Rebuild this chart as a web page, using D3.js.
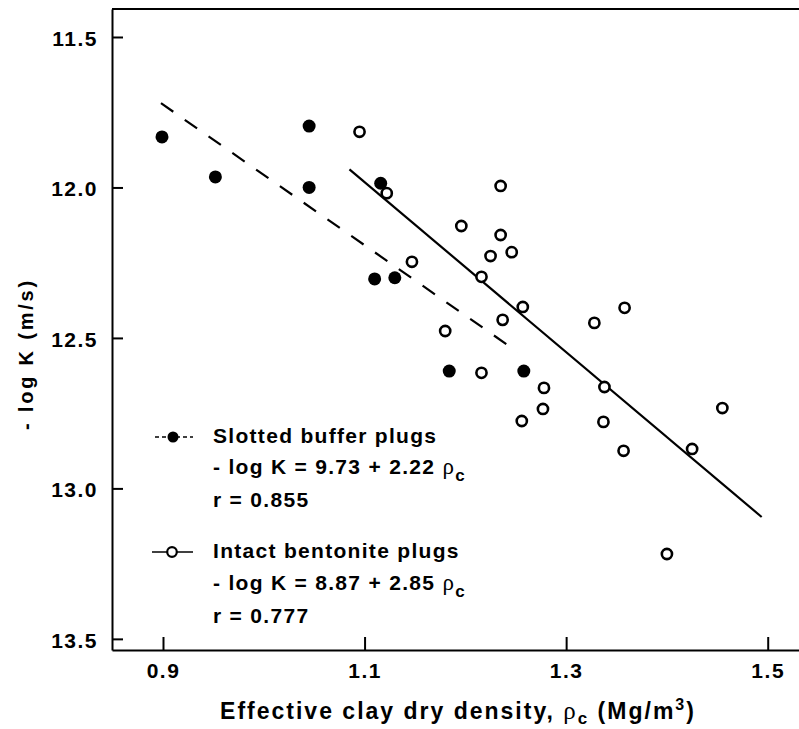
<!DOCTYPE html>
<html>
<head>
<meta charset="utf-8">
<script src="https://cdn.jsdelivr.net/npm/d3@7"></script>
<style>
  body { margin: 0; background: #fff; }
  svg { display: block; font-family: "Liberation Sans", Arial, sans-serif; }
</style>
</head>
<body>
<div id="chart"></div>
<script>
// slotted buffer plugs (filled dots)
const slottedX = [0.899, 0.952, 1.045, 1.045, 1.116, 1.110, 1.130, 1.184, 1.258];
const slottedY = [11.832, 11.965, 11.796, 12.0, 11.986, 12.304, 12.30, 12.61, 12.61];
// intact bentonite plugs (open dots)
const intactX = [1.095, 1.122, 1.235, 1.196, 1.235, 1.246, 1.147, 1.225, 1.216, 1.257, 1.237, 1.18,
  1.328, 1.358, 1.216, 1.278, 1.338, 1.277, 1.455, 1.256, 1.337, 1.357, 1.425, 1.40];
const intactY = [11.815, 12.019, 11.995, 12.128, 12.158, 12.215, 12.247, 12.228, 12.297, 12.397, 12.44, 12.477,
  12.45, 12.40, 12.616, 12.666, 12.663, 12.736, 12.733, 12.776, 12.779, 12.875, 12.869, 13.218];
// fitted lines, ends as drawn
const slottedFit = [[0.898, 11.72], [1.252, 12.547]];
const intactFit = [[1.085, 11.94], [1.494, 13.095]];

const xTicks = [0.9, 1.1, 1.3, 1.5];
const yTicks = [11.5, 12.0, 12.5, 13.0, 13.5];

var width = 799, height = 729;
var margin = {top: 9, right: -6, bottom: 79, left: 112};

var svg = d3.select("#chart").append("svg")
  .attr("width", width)
  .attr("height", height);

var x = d3.scaleLinear()
  .domain([0.8494, 1.537])
  .range([margin.left, width - margin.right]);
var y = d3.scaleLinear()
  .domain([11.407, 13.537])
  .range([margin.top, height - margin.bottom]);

// axes
var yAxis = svg.append("g")
  .attr("transform", "translate(" + margin.left + ",0)")
  .call(d3.axisLeft(y).tickValues(yTicks).tickFormat(d3.format(".1f"))
    .tickSize(-11).tickSizeOuter(0).tickPadding(14));
var xAxis = svg.append("g")
  .attr("transform", "translate(0," + (height - margin.bottom) + ")")
  .call(d3.axisBottom(x).tickValues(xTicks).tickFormat(d3.format(".1f"))
    .tickSize(-13).tickSizeOuter(0).tickPadding(13));

[yAxis, xAxis].forEach(function(g) {
  g.selectAll("path, line").attr("stroke", "#000").attr("stroke-width", 2);
  g.selectAll("text")
    .attr("fill", "#000")
    .style("font-size", "21px")
    .style("font-weight", "bold")
    .style("letter-spacing", "1.5px");
});
yAxis.selectAll("text").attr("dy", "0.4em");

// top border
svg.append("line")
  .attr("x1", margin.left).attr("x2", width)
  .attr("y1", margin.top).attr("y2", margin.top)
  .attr("stroke", "#000").attr("stroke-width", 2);

// regression lines
var line = d3.line().x(d => x(d[0])).y(d => y(d[1]));
svg.append("path").datum(slottedFit)
  .attr("d", line).attr("fill", "none")
  .attr("stroke", "#000").attr("stroke-width", 2.2)
  .attr("stroke-dasharray", "15,14");
svg.append("path").datum(intactFit)
  .attr("d", line).attr("fill", "none")
  .attr("stroke", "#000").attr("stroke-width", 2.2);

// points
svg.append("g").selectAll("circle")
  .data(d3.range(slottedX.length))
  .join("circle")
  .attr("cx", i => x(slottedX[i]))
  .attr("cy", i => y(slottedY[i]))
  .attr("r", 6.5)
  .attr("fill", "#000");
svg.append("g").selectAll("circle")
  .data(d3.range(intactX.length))
  .join("circle")
  .attr("cx", i => x(intactX[i]))
  .attr("cy", i => y(intactY[i]))
  .attr("r", 5.1)
  .attr("fill", "#fff")
  .attr("stroke", "#000")
  .attr("stroke-width", 2.6);

// legend
var legend = svg.append("g");
function addText(yPos, parts) {
  var t = legend.append("text")
    .attr("x", 213).attr("y", yPos)
    .style("font-size", "21px")
    .style("font-weight", "bold")
    .style("letter-spacing", "1.3px");
  parts.forEach(function(p) {
    var s = t.append("tspan").text(p.t);
    if (p.rho) s.style("font-family", "'Liberation Serif', serif").style("font-weight", "normal").style("font-size", "23px");
    if (p.sub) s.style("font-size", "17px").attr("dy", 7);
  });
}
// slotted symbol
legend.append("line").attr("x1", 155).attr("x2", 193).attr("y1", 437).attr("y2", 437)
  .attr("stroke", "#000").attr("stroke-width", 1.6).attr("stroke-dasharray", "4,3");
legend.append("circle").attr("cx", 173).attr("cy", 437).attr("r", 5.5).attr("fill", "#000");
addText(443, [{t: "Slotted buffer plugs"}]);
addText(474, [{t: "- log K = 9.73 + 2.22 "}, {t: "ρ", rho: true}, {t: "c", sub: true}]);
addText(507, [{t: "r = 0.855"}]);
// intact symbol
legend.append("line").attr("x1", 152).attr("x2", 193).attr("y1", 552).attr("y2", 552)
  .attr("stroke", "#000").attr("stroke-width", 1.6);
legend.append("circle").attr("cx", 172).attr("cy", 552).attr("r", 4.8)
  .attr("fill", "#fff").attr("stroke", "#000").attr("stroke-width", 2.2);
addText(558, [{t: "Intact bentonite plugs"}]);
addText(590, [{t: "- log K = 8.87 + 2.85 "}, {t: "ρ", rho: true}, {t: "c", sub: true}]);
addText(623, [{t: "r = 0.777"}]);

// axis titles
var xt = svg.append("text")
  .attr("x", 458).attr("y", 719)
  .attr("text-anchor", "middle")
  .style("font-size", "23px")
  .style("font-weight", "bold")
  .style("letter-spacing", "2px");
xt.append("tspan").text("Effective clay dry density, ");
xt.append("tspan").text("ρ").style("font-family", "'Liberation Serif', serif").style("font-weight", "normal").style("font-size", "25px");
xt.append("tspan").text("c").style("font-size", "17px").attr("dy", 5);
xt.append("tspan").text(" (Mg/m").attr("dy", -5);
xt.append("tspan").text("3").style("font-size", "16px").attr("dy", -9);
xt.append("tspan").text(")").attr("dy", 9);

svg.append("text")
  .attr("transform", "translate(33,354) rotate(-90)")
  .attr("text-anchor", "middle")
  .style("font-size", "20px")
  .style("font-weight", "bold")
  .style("letter-spacing", "2.8px")
  .text("- log K (m/s)");
</script>
</body>
</html>
